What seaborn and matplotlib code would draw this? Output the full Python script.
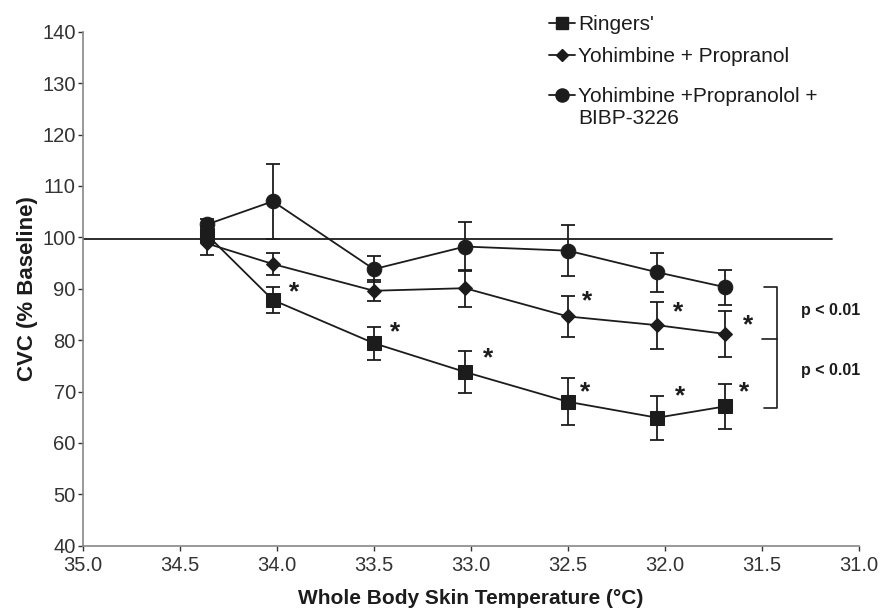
import matplotlib
matplotlib.use("Agg")
import matplotlib.pyplot as plt
import seaborn as sns
import pandas as pd
from matplotlib.lines import Line2D

sns.set_theme(style="ticks")
plt.rcParams['font.family'] = ['Liberation Sans', 'DejaVu Sans']

temps = [34.36, 34.02, 33.5, 33.03, 32.5, 32.04, 31.69]
ringers = [100.5, 87.8, 79.4, 73.8, 68.0, 64.9, 67.1]
ringers_err = [1.5, 2.6, 3.2, 4.0, 4.6, 4.3, 4.3]
yp = [98.8, 94.8, 89.6, 90.1, 84.6, 82.9, 81.2]
yp_err = [2.3, 2.1, 2.0, 3.6, 4.0, 4.6, 4.4]
ypb = [102.5, 107.0, 93.8, 98.2, 97.4, 93.2, 90.3]
ypb_err = [1.0, 7.3, 2.5, 4.7, 5.0, 3.8, 3.4]

labels = ["Ringers'", "Yohimbine + Propranol", "Yohimbine +Propranolol +", "BIBP-3226"]
markers = ["s", "D", "o"]
msizes = [10, 7, 10.5]

star_ringers_x = [33.91, 33.39, 32.91, 32.41, 31.92, 31.59]
star_ringers_y = [89.2, 81.6, 76.5, 69.75, 69.1, 69.9]
star_yp_x = [32.40, 31.93, 31.57]
star_yp_y = [87.5, 85.4, 82.8]

baseline = 99.6
p_text = "p < 0.01"

ink = "#1c1c1c"
fig = plt.figure(figsize=(8.81, 6.09), dpi=100)
ax = fig.add_axes([82.7 / 881, 1 - 545.7 / 609, 776.3 / 881, 514 / 609])

ax.plot([35.0, 31.14], [baseline, baseline], color=ink, lw=1.3, zorder=1)

series = [(ringers, ringers_err), (yp, yp_err), (ypb, ypb_err)]
handles = []
for (vals, errs), lab, mk, ms in zip(series, labels, markers, msizes):
    df = pd.DataFrame({"t": temps, "v": vals})
    sns.lineplot(data=df, x="t", y="v", ax=ax, color=ink, lw=1.3, marker=mk,
                 markersize=ms, markeredgecolor=ink, markerfacecolor=ink,
                 sort=False, estimator=None, zorder=3)
    ax.errorbar(temps, vals, yerr=errs, fmt="none", ecolor=ink, elinewidth=1.3,
                capsize=5, capthick=1.3, zorder=2)
    handles.append(Line2D([0], [0], color=ink, lw=1.3, marker=mk, markersize=ms * 0.9,
                          markerfacecolor=ink, markeredgecolor=ink, label=lab))

for x, y in zip(star_ringers_x + star_yp_x, star_ringers_y + star_yp_y):
    ax.text(x, y, "*", fontsize=19, fontweight="bold", ha="center", va="center", color=ink)

# significance brackets
bx = 31.42
ax.plot([31.49, bx, bx, 31.49], [90.4, 90.4, 66.7, 66.7], color=ink, lw=1.2, clip_on=False)
ax.plot([31.50, bx], [80.3, 80.3], color=ink, lw=1.2, clip_on=False)
ax.text(31.30, 85.7, p_text, fontsize=11.5, fontweight="bold", ha="left", va="center", color=ink)
ax.text(31.30, 74.0, p_text, fontsize=11.5, fontweight="bold", ha="left", va="center", color=ink)

ax.set_xlim(35.0, 31.0)
ax.set_ylim(40, 140)
ax.set_xticks([35.0, 34.5, 34.0, 33.5, 33.0, 32.5, 32.0, 31.5, 31.0])
ax.set_xticklabels(["35.0", "34.5", "34.0", "33.5", "33.0", "32.5", "32.0", "31.5", "31.0"])
ax.set_yticks(range(40, 141, 10))
ax.tick_params(axis="both", labelsize=14.5, colors="#333333", length=3.5, width=1, direction="out")
ax.tick_params(axis="y", pad=1.5)
ax.tick_params(axis="x", pad=4)
for s in ["top", "right"]:
    ax.spines[s].set_visible(False)
for s in ["left", "bottom"]:
    ax.spines[s].set_color("#888888")
    ax.spines[s].set_linewidth(1.2)

ax.set_xlabel("Whole Body Skin Temperature (\u00b0C)", fontsize=15, fontweight="bold", color=ink, labelpad=10)
ax.set_ylabel("CVC (% Baseline)", fontsize=16, fontweight="bold", color=ink, labelpad=3)

leg_kw = dict(loc="upper left", frameon=False, fontsize=15, handlelength=1.25,
              handletextpad=0.15, labelspacing=0.63, borderaxespad=0, borderpad=0)
leg1 = ax.legend(handles=handles[:2], bbox_to_anchor=(0.6007, 1.032), **leg_kw)
ax.add_artist(leg1)
leg2 = ax.legend(handles=handles[2:], bbox_to_anchor=(0.6007, 0.892), **leg_kw)
for lg in (leg1, leg2):
    for t in lg.get_texts():
        t.set_color(ink)
# second line of the third legend label
ax.text(0.638, 0.832, labels[3], transform=ax.transAxes, fontsize=15, color=ink,
        ha="left", va="center", clip_on=False)

fig.savefig("out.png", dpi=100)
